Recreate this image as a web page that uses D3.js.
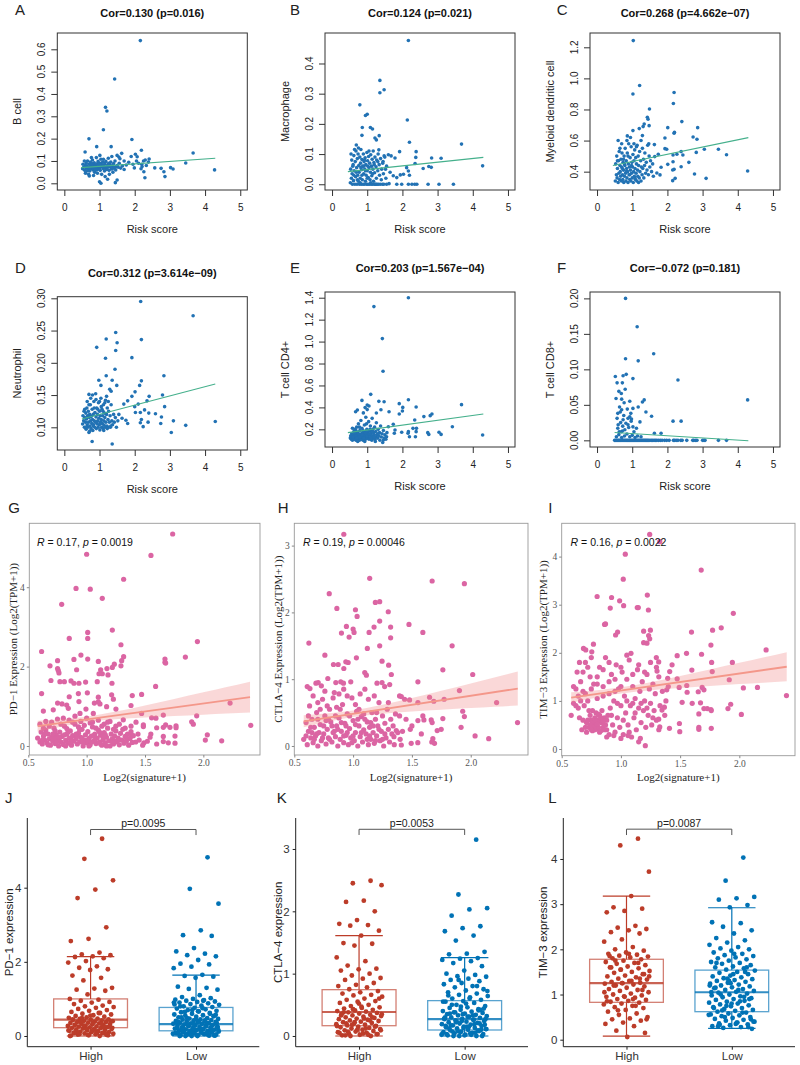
<!DOCTYPE html>
<html><head><meta charset="utf-8">
<script src="https://cdn.jsdelivr.net/npm/d3@7"></script>
<style>body{margin:0;background:#fff}svg{display:block}</style>
</head><body><svg id="c" width="800" height="1065"></svg>
<script>
// ---------------- DATA ----------------
// Panels A-F: [risk score, cell infiltration]
const ptsA=[[2.16,.639],[1.43,.467],[1.17,.34],[1.21,.324],[1.11,.24],[0.7,.199],[1.92,.196],[0.92,.164],[1.33,.164],[0.59,.14],[1.63,.134],[2.02,.13],[2.19,.148],[3.66,.136],[3.45,.091],[4.27,.06],[2.3,.104],[2.41,.109],[2.57,.069],[2.75,.067],[2.83,.052],[2.86,.03],[3.02,.07],[3.09,.064],[2.29,.025],[1.99,.069],[1.83,.094],[1.76,.082],[2.11,.09],[2.26,.052],[2.21,.075],[2.07,.119],[1.0,.007],[1.04,0],[1.45,.003],[1.23,.018],[1.5,.015],[0.71,.033],[1.9,.12],[2.2,.085],[2.39,.095],[2.18,.065],[1.7,.1],[1.55,.118],[2.25,.1],[1.95,.085],[2.33,.08],[2.05,.1],
[0.52,.065],[0.55,.072],[0.58,.058],[0.6,.08],[0.62,.09],[0.63,.068],[0.65,.075],[0.66,.1],[0.68,.062],[0.7,.085],[0.71,.07],[0.72,.055],[0.74,.095],[0.75,.078],[0.76,.066],[0.78,.088],[0.79,.072],[0.8,.104],[0.81,.06],[0.82,.08],[0.84,.07],[0.85,.092],[0.86,.05],[0.87,.083],[0.88,.068],[0.9,.076],[0.91,.115],[0.92,.06],[0.93,.087],[0.95,.071],[0.96,.098],[0.97,.064],[0.98,.08],[1.0,.07],[1.01,.125],[1.02,.058],[1.03,.09],[1.05,.075],[1.06,.04],[1.08,.082],[1.1,.066],[1.11,.108],[1.12,.078],[1.14,.055],[1.15,.088],[1.17,.07],[1.18,.098],[1.2,.062],[1.22,.08],[1.24,.072],[1.25,.112],[1.27,.058],[1.29,.085],[1.3,.074],[1.32,.095],[1.34,.064],[1.36,.078],[1.38,.05],[1.4,.088],[1.42,.07],[1.44,.1],[1.46,.06],[1.5,.08],[1.53,.072],[1.56,.09],[1.6,.068],[1.65,.078],[1.7,.062],[0.57,.1],[0.6,.045],[0.69,.04],[0.77,.115],[0.83,.035],[0.94,.045],[1.04,.108],[1.09,.095],[1.16,.03],[1.28,.04],[1.35,.12],[0.53,.085],[0.64,.055],[0.73,.07],[0.89,.06],[0.99,.088],[1.13,.068],[1.26,.09],[1.37,.066],[1.48,.075],[1.5,.125],[1.58,.11]];
const ptsB=[[2.17,.476],[1.36,.344],[1.48,.313],[1.36,.303],[0.79,.263],[1.0,.232],[0.95,.228],[2.14,.213],[0.86,.188],[1.09,.188],[1.15,.183],[0.85,.162],[1.22,.153],[1.26,.147],[1.34,.161],[2.2,.139],[3.68,.133],[0.69,.13],[1.33,.114],[2.39,.108],[1.92,.108],[1.48,.094],[1.6,.098],[1.68,.094],[1.79,.087],[2.38,.089],[2.83,.087],[3.1,.086],[2.75,.059],[2.82,.056],[2.36,.069],[2.59,.052],[4.28,.061],[2.17,.044],[1.94,.031],[2.03,.033],[1.74,.028],[1.84,.022],[1.62,.002],[2.17,0],[2.27,0],[2.35,0],[2.41,0],[2.73,0],[3.04,0],[3.45,0],[1.98,0],[1.84,0],[1.55,0],[2.2,.03],[2.12,.055],[1.55,.06],[1.65,.04],[1.45,.075],[1.52,.05],
[0.52,.005],[0.53,.05],[0.55,.02],[0.56,.08],[0.57,.035],[0.58,0],[0.6,.065],[0.61,.012],[0.62,.095],[0.63,.045],[0.65,0],[0.66,.075],[0.67,.025],[0.68,.11],[0.7,.055],[0.71,0],[0.72,.085],[0.73,.03],[0.74,.1],[0.75,.01],[0.76,.062],[0.77,.04],[0.78,0],[0.79,.09],[0.8,.02],[0.81,.07],[0.82,.115],[0.83,0],[0.84,.048],[0.85,.082],[0.86,.015],[0.87,.06],[0.88,0],[0.89,.1],[0.9,.035],[0.91,.075],[0.92,0],[0.93,.05],[0.94,.088],[0.95,.01],[0.96,.065],[0.97,.03],[0.98,0],[0.99,.105],[1.0,.045],[1.01,.078],[1.02,0],[1.03,.022],[1.04,.092],[1.05,.055],[1.06,0],[1.07,.07],[1.08,.015],[1.09,.04],[1.1,.098],[1.11,0],[1.12,.06],[1.13,.028],[1.14,.083],[1.15,0],[1.16,.05],[1.17,.11],[1.18,.01],[1.19,.072],[1.2,0],[1.21,.038],[1.22,.09],[1.23,0],[1.25,.058],[1.26,.02],[1.27,.08],[1.28,0],[1.3,.045],[1.31,.1],[1.32,0],[1.34,.065],[1.35,.03],[1.37,0],[1.38,.085],[1.4,.015],[1.41,.05],[1.43,0],[1.44,.07],[1.46,.035],[1.47,0],[1.5,.09],[1.53,.02],[0.54,.1],[0.59,.06],[0.64,.115],[0.69,.04],[0.75,.12],[0.8,.005],[0.85,.03],[0.9,.06],[0.95,.045],[1.0,.02],[1.05,.11],[1.1,.005],[1.15,.035],[1.2,.065],[1.25,0],[1.3,.075],[0.62,.03],[0.72,.015],[0.82,.055],[0.92,.08],[1.02,.06]];
const ptsC=[[1.03,1.243],[1.21,.954],[1.02,.9],[2.19,.909],[2.17,.838],[1.49,.803],[1.43,.75],[1.45,.737],[2.41,.722],[1.34,.707],[1.31,.69],[1.48,.696],[1.2,.677],[2.01,.683],[2.86,.683],[1.02,.664],[2.2,.653],[2.19,.647],[2.73,.623],[2.84,.608],[1.93,.617],[0.86,.63],[1.29,.632],[1.63,.574],[1.47,.58],[1.93,.548],[1.98,.544],[3.05,.544],[3.45,.544],[2.82,.524],[3.68,.509],[2.16,.507],[2.27,.512],[2.39,.529],[2.44,.507],[1.74,.512],[1.64,.497],[2.01,.447],[2.16,.464],[2.61,.46],[2.39,.432],[1.82,.428],[2.19,.415],[2.15,.411],[2.77,.385],[3.1,.357],[4.28,.404],[2.22,.357],[2.15,.342],[1.79,.379],[1.7,.391],
[0.52,.34],[0.53,.45],[0.55,.38],[0.56,.5],[0.57,.36],[0.58,.42],[0.6,.33],[0.61,.47],[0.62,.39],[0.63,.53],[0.64,.35],[0.65,.44],[0.66,.4],[0.67,.37],[0.68,.48],[0.69,.34],[0.7,.43],[0.71,.52],[0.72,.38],[0.73,.35],[0.74,.46],[0.75,.41],[0.76,.33],[0.77,.5],[0.78,.37],[0.79,.44],[0.8,.55],[0.81,.39],[0.82,.34],[0.83,.47],[0.84,.42],[0.85,.36],[0.86,.52],[0.87,.4],[0.88,.33],[0.89,.45],[0.9,.58],[0.91,.38],[0.92,.43],[0.93,.35],[0.94,.49],[0.95,.41],[0.96,.34],[0.97,.56],[0.98,.39],[0.99,.46],[1.0,.36],[1.01,.43],[1.02,.51],[1.03,.33],[1.04,.4],[1.05,.47],[1.06,.37],[1.07,.54],[1.08,.42],[1.09,.35],[1.1,.49],[1.11,.39],[1.12,.45],[1.13,.34],[1.14,.57],[1.15,.41],[1.16,.37],[1.17,.5],[1.18,.44],[1.2,.36],[1.21,.53],[1.22,.4],[1.24,.47],[1.25,.34],[1.26,.43],[1.28,.38],[1.29,.55],[1.3,.42],[1.32,.48],[1.33,.36],[1.35,.44],[1.36,.52],[1.38,.39],[1.4,.46],[1.42,.41],[1.44,.57],[1.46,.38],[1.48,.5],[1.5,.43],[1.52,.47],[1.55,.4],[1.58,.45],[1.6,.37],[0.6,.6],[0.7,.58],[0.85,.6],[0.95,.62],[1.05,.58],[0.65,.55],[0.75,.48],[0.88,.5],[1.12,.56],[1.25,.6],[0.58,.47],[0.72,.42],[0.83,.4],[0.93,.38],[1.08,.36],[1.18,.33],[0.98,.44],[0.78,.45]];
const ptsD=[[2.17,.295],[3.66,.273],[1.46,.247],[1.19,.237],[2.19,.236],[1.5,.231],[0.92,.224],[1.46,.219],[1.17,.207],[1.92,.208],[1.44,.19],[1.19,.18],[2.83,.18],[1.36,.173],[0.98,.173],[2.19,.172],[1.49,.165],[2.14,.165],[1.29,.159],[1.33,.156],[1.04,.165],[0.7,.151],[2.79,.15],[2.01,.155],[1.92,.148],[2.41,.148],[2.35,.141],[2.1,.136],[1.69,.136],[1.8,.141],[2.0,.132],[2.85,.132],[2.28,.127],[2.16,.123],[2.02,.123],[2.59,.121],[2.4,.122],[2.76,.116],[3.1,.11],[4.29,.109],[2.38,.108],[2.19,.112],[2.16,.107],[2.24,.101],[2.74,.106],[3.45,.103],[3.04,.092],[0.79,.078],[1.36,.074],[1.8,.106],[1.75,.111],[1.64,.114],
[0.52,.105],[0.53,.118],[0.55,.11],[0.56,.125],[0.57,.1],[0.58,.115],[0.6,.108],[0.61,.122],[0.62,.097],[0.63,.113],[0.64,.13],[0.65,.104],[0.66,.118],[0.67,.1],[0.68,.125],[0.69,.108],[0.7,.092],[0.71,.115],[0.72,.12],[0.73,.102],[0.74,.135],[0.75,.11],[0.76,.098],[0.77,.117],[0.78,.106],[0.79,.128],[0.8,.112],[0.81,.095],[0.82,.12],[0.83,.104],[0.84,.14],[0.85,.11],[0.86,.1],[0.87,.123],[0.88,.108],[0.89,.152],[0.9,.116],[0.91,.098],[0.92,.13],[0.93,.105],[0.94,.12],[0.95,.11],[0.96,.1],[0.97,.138],[0.98,.114],[0.99,.104],[1.0,.125],[1.01,.096],[1.02,.118],[1.03,.108],[1.04,.145],[1.05,.112],[1.06,.1],[1.07,.128],[1.08,.106],[1.09,.118],[1.1,.098],[1.11,.135],[1.12,.11],[1.13,.103],[1.14,.122],[1.15,.115],[1.16,.1],[1.17,.142],[1.18,.108],[1.2,.12],[1.21,.102],[1.22,.13],[1.24,.112],[1.25,.1],[1.26,.125],[1.28,.108],[1.3,.118],[1.31,.1],[1.33,.135],[1.35,.11],[1.37,.104],[1.4,.12],[1.42,.108],[1.45,.115],[1.48,.1],[1.52,.11],[1.55,.12],[0.58,.128],[0.65,.14],[0.7,.135],[0.75,.145],[0.8,.15],[0.85,.13],[0.9,.143],[0.95,.128],[1.0,.14],[1.05,.132],[1.1,.125],[1.15,.138],[1.2,.148],[1.25,.14],[0.6,.1],[0.72,.094],[0.82,.102],[0.92,.108],[1.02,.105],[1.12,.095],[1.22,.098],[1.32,.102]];
const ptsE=[[2.17,1.4],[1.19,1.319],[1.43,1.027],[1.45,.729],[1.1,.519],[0.85,.464],[2.17,.47],[1.33,.455],[1.48,.452],[3.68,.425],[1.91,.434],[2.01,.4],[2.39,.404],[1.0,.422],[1.05,.413],[0.94,.398],[0.72,.376],[0.67,.361],[1.26,.349],[1.39,.379],[1.62,.361],[1.91,.34],[2.0,.367],[2.84,.34],[2.79,.325],[2.61,.316],[2.35,.285],[3.42,.224],[4.28,.148],[3.04,.173],[3.1,.154],[2.72,.17],[2.75,.154],[2.3,.209],[2.4,.209],[2.39,.179],[2.16,.164],[2.2,.133],[2.17,.179],[2.37,.133],[1.98,.173],[1.79,.194],[1.77,.164],[1.55,.133],[1.46,.103],[1.74,.246],[1.6,.224],
[0.52,.12],[0.53,.14],[0.55,.11],[0.56,.16],[0.57,.13],[0.58,.1],[0.6,.15],[0.61,.12],[0.62,.18],[0.63,.11],[0.64,.14],[0.65,.2],[0.66,.12],[0.67,.16],[0.68,.1],[0.69,.13],[0.7,.22],[0.71,.15],[0.72,.11],[0.73,.17],[0.74,.13],[0.75,.25],[0.76,.12],[0.77,.15],[0.78,.1],[0.79,.19],[0.8,.14],[0.81,.12],[0.82,.28],[0.83,.16],[0.84,.11],[0.85,.21],[0.86,.13],[0.87,.17],[0.88,.1],[0.89,.35],[0.9,.15],[0.91,.12],[0.92,.24],[0.93,.14],[0.94,.18],[0.95,.11],[0.96,.31],[0.97,.16],[0.98,.13],[0.99,.2],[1.0,.38],[1.01,.12],[1.02,.17],[1.03,.14],[1.04,.27],[1.05,.11],[1.06,.19],[1.07,.15],[1.08,.12],[1.09,.23],[1.1,.16],[1.11,.13],[1.12,.18],[1.13,.1],[1.14,.3],[1.15,.14],[1.16,.2],[1.17,.12],[1.18,.17],[1.2,.15],[1.21,.22],[1.22,.11],[1.24,.18],[1.25,.13],[1.26,.26],[1.28,.15],[1.3,.12],[1.31,.2],[1.33,.14],[1.35,.17],[1.36,.1],[1.38,.23],[1.4,.13],[1.42,.16],[1.44,.08],[1.46,.19],[1.48,.12],[1.5,.15],[1.53,.11],[1.56,.17],[0.6,.13],[0.7,.12],[0.8,.13],[0.9,.12],[1.0,.14],[1.1,.12],[1.2,.13],[1.3,.16],[0.65,.17],[0.75,.16],[0.85,.15],[0.95,.17],[1.05,.16],[1.15,.18],[0.58,.21],[0.68,.19],[0.78,.22],[0.88,.19],[0.98,.25],[1.08,.2],[0.73,.09],[0.93,.09],[1.23,.09]];
const ptsF=[[0.81,.2],[1.14,.16],[1.61,.122],[0.81,.115],[1.17,.112],[0.83,.093],[0.52,.09],[0.74,.091],[1.02,.087],[2.3,.085],[0.57,.081],[0.72,.081],[0.8,.072],[0.62,.069],[0.69,.066],[1.34,.057],[1.29,.054],[4.28,.057],[0.54,.059],[0.7,.058],[0.77,.053],[1.17,.047],[1.02,.045],[1.39,.04],[0.96,.038],[1.55,.034],[1.22,.026],[2.16,.027],[2.39,.027],[0.59,.038],[0.66,.04],[0.88,.031],[0.57,.031],[0.74,.029],[0.93,.033],[1.02,.019],[1.12,.017],[1.63,.01],[1.82,.01],[0.59,.017],[0.79,.015],[0.88,.022],[0.69,.012],
[0.5,0],[0.53,0],[0.56,0],[0.59,0],[0.62,0],[0.65,0],[0.68,0],[0.71,0],[0.74,0],[0.77,0],[0.8,0],[0.83,0],[0.86,0],[0.89,0],[0.92,0],[0.95,0],[0.98,0],[1.01,0],[1.04,0],[1.07,0],[1.1,0],[1.13,0],[1.16,0],[1.19,0],[1.22,0],[1.25,0],[1.28,0],[1.31,0],[1.34,0],[1.37,0],[1.4,0],[1.43,0],[1.46,0],[1.5,0],[1.54,0],[1.58,0],[1.62,0],[1.66,0],[1.7,0],[1.75,0],[1.8,0],[1.85,0],[1.92,0],[1.98,0],[2.05,0],[2.17,0],[2.2,0],[2.25,0],[2.3,0],[2.38,0],[2.42,0],[2.55,0],[2.72,0],[2.75,0],[2.8,0],[2.84,0],[3.0,0],[3.04,0],[3.07,0],[3.45,0],[3.68,0],
[0.55,.005],[0.62,.008],[0.7,.004],[0.78,.006],[0.85,.009],[0.93,.005],[1.0,.007],[1.08,.004],[1.15,.006],[1.25,.005],[0.6,.022],[0.67,.025],[0.73,.02],[0.82,.024],[0.9,.018],[0.97,.027],[1.05,.012],[0.64,.047],[0.7,.043],[0.76,.035],[0.86,.044],[0.93,.055],[0.98,.03],[0.72,.013],[0.63,.012]];

// Linear fits read from A-F: [x0, y0, x1, y1]
const fitA=[0.48,.07,4.29,.112], fitB=[0.45,.042,4.3,.089], fitC=[0.45,.44,4.3,.619],
      fitD=[0.5,.113,4.29,.167], fitE=[0.45,.17,4.3,.34], fitF=[0.5,.011,4.3,-.0005];
const riskTicks=[0,1,2,3,4,5];
const ticksA=[0,.1,.2,.3,.4,.5,.6], ticksB=[0,.1,.2,.3,.4], ticksC=[.4,.6,.8,1.0,1.2],
      ticksD=[.10,.15,.20,.25,.30], ticksE=[.2,.4,.6,.8,1.0,1.2,1.4], ticksF=[0,.05,.10,.15,.20];

// Panels G-I: [Log2(signature+1), expression]
const ptsG=[[1.737,5.34],[1.551,4.8],[1.0,4.83],[1.317,4.2],[0.909,3.97],[1.031,3.95],[1.134,3.72],[0.786,3.57],[1.22,2.92],[1.009,2.86],[0.851,2.71],[1.009,2.71],[1.949,2.63],[1.294,2.55],[0.614,2.38],[0.951,2.29],[1.317,2.25],[1.846,2.24],[1.671,2.19],[0.891,2.18],[1.009,2.19],[0.751,2.15],[1.3,2.15],[1.1,2.13],[1.671,2.11],[1.677,2.09],[1.237,2.06],[0.686,2.02],[1.294,2.02],[1.22,1.98],[0.751,1.95],[1.174,1.95],[0.914,1.92],[1.12,1.92],[0.757,1.9],[0.763,1.84],[1.106,1.82],[1.134,1.82],[1.183,1.79],[1.091,1.62],[0.694,1.65],[0.771,1.62],[0.809,1.62],[0.866,1.64],[0.891,1.58],[0.934,1.58],[0.991,1.61],[1.217,1.58],[1.591,1.5],[0.614,1.32],[0.929,1.32],[1.006,1.34],[1.391,1.27],[1.471,1.3],[0.851,1.24],[1.1,1.23],[1.214,1.29],[1.229,1.18],[1.38,1.02],[1.1,1.11],[0.751,1.08],[0.789,1.06],[0.829,1.03],[0.934,1.12],[1.066,1.08],[1.114,1.06],[1.171,.99],[1.251,.93],[0.629,.88],[0.714,.91],[0.843,.95],[0.994,.93],[2.229,1.08],[1.657,.78],[1.943,.76],[1.557,.71],[1.594,.7],[1.471,.82],[0.943,.82],[1.057,.82],[1.9,.61],[1.914,.55],[2.406,.52],[1.423,.6],[1.314,.66],[1.486,.53],[1.486,.49],[1.6,.46],[1.657,.47],[1.677,.53],[1.714,.47],[1.766,.51],[1.766,.46],[2.034,.28],[1.757,.25],[1.657,.24],[1.386,.25],[1.543,.22],[2.017,.15],[2.157,.13],[1.757,.07],[1.491,.08],[1.657,.11],[1.7,.08],
[0.58,.2],[0.6,.1],[0.61,.35],[0.62,.05],[0.63,.25],[0.64,.15],[0.65,.4],[0.66,.08],[0.67,.3],[0.68,.18],[0.69,.02],[0.7,.22],[0.71,.12],[0.72,.45],[0.73,.06],[0.74,.28],[0.75,.16],[0.76,0],[0.77,.35],[0.78,.1],[0.79,.24],[0.8,.04],[0.81,.5],[0.82,.14],[0.83,.3],[0.84,.07],[0.85,.2],[0.86,.38],[0.87,.02],[0.88,.26],[0.89,.12],[0.9,.55],[0.91,.18],[0.92,.05],[0.93,.32],[0.94,.1],[0.95,.22],[0.96,.42],[0.97,0],[0.98,.15],[0.99,.28],[1.0,.08],[1.01,.36],[1.02,.19],[1.03,.03],[1.04,.25],[1.05,.48],[1.06,.12],[1.07,.3],[1.08,.06],[1.09,.2],[1.1,.4],[1.11,.1],[1.12,.27],[1.13,.02],[1.14,.16],[1.15,.34],[1.16,.08],[1.17,.22],[1.18,.45],[1.19,.13],[1.2,0],[1.21,.3],[1.22,.18],[1.23,.05],[1.24,.25],[1.25,.38],[1.26,.1],[1.27,.2],[1.28,.03],[1.29,.32],[1.3,.15],[1.31,.42],[1.32,.07],[1.33,.24],[1.34,.12],[1.35,.3],[1.36,.02],[1.37,.19],[1.38,.36],[1.39,.09],[1.4,.26],[0.6,.55],[0.65,.62],[0.7,.6],[0.75,.68],[0.8,.7],[0.85,.65],[0.9,.75],[0.95,.62],[1.0,.7],[1.05,.6],[1.1,.65],[1.15,.55],[1.2,.62],[1.25,.5],[0.63,.45],[0.68,.5],[0.73,.38],[0.78,.55],[0.83,.44],[0.88,.6],[0.93,.48],[0.98,.52],[1.03,.58],[1.08,.45],[1.13,.5],[1.18,.6],[1.23,.42],[1.28,.55],[1.33,.45],[1.38,.5],[0.62,.15],[0.67,.03],[0.72,.2],[0.77,.12],[0.82,0],[0.87,.15],[0.92,.25],[0.97,.1],[1.02,0],[1.07,.15],[1.12,.05],[1.17,0],[1.22,.1],[1.27,.15],[0.71,.3],[0.76,.22],[0.81,.28],[0.86,.1],[0.91,.3],[0.96,.2],[1.01,.15],[1.06,.26],[1.11,.35],[1.16,.28],[0.64,.3],[0.74,.08],[0.84,.35],[0.94,.4],[1.04,.1],[1.14,.24],[1.24,.12],[1.34,.2],[1.44,.3],[1.42,.1],[1.45,.15],[1.48,.02],[1.52,.12],[1.55,.3],[1.6,.05]];
const ptsH=[[0.921,3.17],[1.141,2.51],[1.672,2.47],[1.946,2.43],[0.797,2.28],[1.226,2.16],[1.189,2.15],[0.862,2.06],[1.02,2.04],[1.034,1.94],[1.299,2.01],[1.226,1.87],[1.475,1.82],[0.943,1.79],[1.178,1.78],[1.319,1.78],[1.0,1.75],[1.008,1.7],[0.901,1.69],[1.136,1.7],[1.593,1.7],[0.966,1.63],[1.319,1.62],[0.624,1.54],[1.226,1.5],[1.842,1.5],[1.121,1.46],[0.76,1.36],[1.246,1.27],[0.938,1.26],[0.958,1.25],[1.028,1.32],[0.833,1.22],[0.873,1.22],[1.302,1.21],[0.921,1.16],[1.763,1.14],[1.099,1.1],[1.113,1.06],[1.325,1.07],[2.017,1.07],[1.551,.96],[0.785,1.01],[0.61,.89],[0.633,.86],[0.684,.94],[0.703,.95],[0.853,.95],[0.895,.96],[0.918,.94],[0.98,.96],[1.203,.94],[1.246,.95],[1.311,.92],[1.268,.89],[1.395,.75],[1.41,.74],[1.438,.7],[1.48,.69],[1.904,.83],[1.65,.73],[1.686,.67],[1.774,.7],[2.22,.65],[1.551,.65],[1.932,.52],[1.946,.44],[2.398,.35],[1.593,.45],[1.602,.39],[1.551,.38],[1.395,.45],[1.664,.39],[1.672,.35],[1.763,.41],[1.486,.25],[1.715,.23],[1.749,.25],[1.918,.28],[2.037,.15],[2.153,.11],[1.494,.04],[1.41,.015],[1.678,.11],[1.669,.06],[1.692,.04],[1.347,.14],[1.367,.23],
[0.58,.1],[0.6,.35],[0.61,.02],[0.62,.22],[0.63,.6],[0.64,.12],[0.65,.4],[0.66,.05],[0.67,.28],[0.68,.15],[0.69,.5],[0.7,0],[0.71,.2],[0.72,.32],[0.73,.08],[0.74,.7],[0.75,.18],[0.76,.45],[0.77,.03],[0.78,.25],[0.79,.12],[0.8,.55],[0.81,.36],[0.82,.06],[0.83,.2],[0.84,.8],[0.85,.14],[0.86,.3],[0.87,0],[0.88,.42],[0.89,.1],[0.9,.22],[0.91,.62],[0.92,.05],[0.93,.34],[0.94,.16],[0.95,.48],[0.96,.02],[0.97,.26],[0.98,.12],[0.99,.72],[1.0,.38],[1.01,.08],[1.02,.2],[1.03,.52],[1.04,0],[1.05,.3],[1.06,.14],[1.07,.44],[1.08,.06],[1.09,.24],[1.1,.85],[1.11,.18],[1.12,.36],[1.13,.02],[1.14,.28],[1.15,.1],[1.16,.5],[1.17,.2],[1.18,.04],[1.19,.4],[1.2,.15],[1.21,.3],[1.22,.65],[1.23,.08],[1.24,.22],[1.25,.45],[1.26,0],[1.27,.34],[1.28,.12],[1.29,.55],[1.3,.25],[1.31,.06],[1.32,.4],[1.33,.18],[1.34,.3],[1.35,.02],[1.36,.48],[1.38,.2],[1.4,.1],[0.6,.15],[0.65,.2],[0.7,.4],[0.75,.3],[0.8,.1],[0.85,.45],[0.9,.35],[0.95,.2],[1.0,.15],[1.05,.55],[1.1,.4],[1.15,.35],[1.2,.5],[1.25,.1],[0.62,.45],[0.67,.1],[0.72,.55],[0.77,.38],[0.82,.3],[0.87,.25],[0.92,.15],[0.97,.45],[1.02,.32],[1.07,.2],[1.12,.1],[1.17,.3],[1.22,.25],[1.27,.18],[0.64,.28],[0.69,.18],[0.74,.12],[0.79,.4],[0.84,.22],[0.89,.55],[0.94,.3],[0.99,.05],[1.04,.4],[1.09,.48],[1.14,.15],[1.19,.08],[0.7,.65],[0.78,.6],[0.86,.58],[0.95,.75],[1.02,.62],[1.13,.7],[0.76,.82],[0.83,.72],[0.92,.85],[1.06,.78],[1.18,.75],[1.3,.65],[0.73,.9],[0.88,.78],[0.66,.75],[1.42,.22],[1.45,.4],[1.5,.3],[1.55,.05],[1.58,.18]];
const ptsI=[[1.243,4.46],[1.328,4.31],[1.037,4.05],[1.678,3.72],[1.02,3.53],[0.799,3.17],[1.223,3.2],[0.921,3.15],[0.989,3.08],[1.023,2.98],[1.138,2.94],[1.147,2.94],[0.91,2.93],[1.232,2.89],[1.949,2.82],[0.862,2.59],[0.87,2.6],[1.847,2.52],[1.774,2.47],[1.249,2.47],[0.955,2.37],[0.972,2.43],[1.596,2.43],[1.192,2.45],[1.234,2.36],[1.192,2.21],[1.22,2.2],[1.243,2.29],[1.76,2.16],[2.226,2.06],[0.768,2.18],[0.684,2.09],[0.703,2.06],[0.754,2.02],[1.085,1.99],[1.554,1.99],[1.681,1.97],[1.299,1.9],[1.475,1.94],[1.941,1.8],[1.766,1.8],[1.319,1.81],[1.599,1.64],[1.771,1.61],[1.305,1.62],[1.432,1.75],[1.412,1.61],[1.395,1.47],[1.475,1.46],[1.556,1.32],[1.915,1.44],[2.034,1.27],[2.153,1.28],[1.686,1.28],[1.701,1.23],[1.387,1.23],[1.492,1.28],[2.398,1.11],[1.559,1.18],[1.653,1.19],[1.602,.95],[1.672,.96],[1.927,.93],[1.701,.84],[1.729,.84],[1.76,.82],[1.904,.84],[1.658,.73],[1.763,.8],[2.017,.72],[1.517,.97],[1.347,.81],[1.367,.87],[1.319,.62],[1.41,.43],[1.494,.53],[1.497,.36],[1.658,.45],[1.658,.41],[1.763,.43],[1.328,.46],[1.206,.07],[1.15,.15],[1.164,.22],
[0.58,.7],[0.6,1.3],[0.62,.9],[0.63,1.6],[0.64,1.1],[0.65,.65],[0.66,1.4],[0.67,.4],[0.68,1.2],[0.69,.9],[0.7,1.8],[0.71,.55],[0.72,1.0],[0.73,.45],[0.74,1.5],[0.75,.6],[0.76,.38],[0.77,1.35],[0.78,.5],[0.79,.75],[0.8,.42],[0.8,1.05],[0.81,.6],[0.82,.35],[0.82,1.7],[0.83,.55],[0.84,.8],[0.85,.45],[0.85,1.3],[0.86,.65],[0.87,.5],[0.87,1.9],[0.88,.4],[0.89,.7],[0.9,1.15],[0.9,.3],[0.91,.85],[0.92,1.55],[0.93,.5],[0.94,1.0],[0.95,.35],[0.96,1.75],[0.97,.65],[0.98,1.25],[0.99,.45],[1.0,.9],[1.01,1.6],[1.02,.3],[1.03,1.1],[1.04,.75],[1.05,1.45],[1.06,.5],[1.07,1.85],[1.08,.9],[1.09,.25],[1.1,1.3],[1.11,.65],[1.12,1.05],[1.13,.4],[1.14,1.65],[1.15,.85],[1.16,1.2],[1.17,.55],[1.18,1.4],[1.19,.8],[1.2,1.0],[1.21,.45],[1.22,1.55],[1.23,.7],[1.24,1.25],[1.25,.95],[1.26,.5],[1.27,1.35],[1.28,.8],[1.29,1.15],[1.3,.6],[1.32,1.5],[1.33,.9],[1.35,1.2],[1.37,.7],[1.38,1.0],[1.4,1.3],[0.72,.6],[0.74,.7],[0.76,.55],[0.76,.8],[0.78,.65],[0.78,.4],[0.79,.5],[0.8,.6],[0.81,.45],[0.82,.7],[0.83,.38],[0.84,.55],[0.74,.5],[0.77,.45],[0.79,.58],[0.81,.72],[0.86,.4],[0.88,.6],[0.7,.45],[0.73,.8],[0.75,.4],[0.8,.52],[0.83,.65],[0.85,.58],[0.65,1.8],[0.68,1.6],[0.72,1.7],[0.75,1.9],[0.8,1.5],[0.85,1.65],[0.9,1.8],[0.95,1.45],[1.0,1.7],[1.05,1.95],[1.1,1.55],[1.15,1.75],[1.2,1.6],[1.25,1.8],[1.3,1.7],[0.62,1.25],[0.66,1.0],[0.7,1.15],[0.75,1.25],[0.8,1.35],[0.85,1.1],[0.9,1.4],[0.95,1.2],[1.0,1.3],[1.05,1.0],[1.1,.95],[0.92,.7],[0.97,.95],[1.02,.6],[1.07,.35],[1.12,.75],[1.17,.95],[1.22,.85],[1.27,.65],[1.32,.4],[0.88,.25],[0.94,.28],[1.0,.22],[1.06,.28],[0.6,.95],[0.64,.85],[0.68,.6],[0.71,.35]];
// regression line [x0,y0,x1,y1] and confidence ribbon [x, lower, upper]
const fitG=[0.58,.5,2.4,1.23], fitH=[0.58,.37,2.4,.86], fitI=[0.58,1.07,2.4,1.71];
const ribbonG=[[0.58,.366,.634],[0.8,.499,.677],[1.0,.598,.738],[1.25,.671,.867],[1.5,.716,1.022],[1.75,.753,1.185],[2.0,.789,1.351],[2.2,.816,1.484],[2.4,.842,1.618]];
const ribbonH=[[0.58,.28,.46],[0.8,.368,.49],[1.0,.433,.533],[1.25,.483,.617],[1.5,.515,.719],[1.75,.542,.827],[2.0,.567,.937],[2.2,.586,1.025],[2.4,.606,1.114]];
const ribbonI=[[0.58,.96,1.18],[0.8,1.07,1.224],[1.0,1.153,1.283],[1.25,1.222,1.39],[1.5,1.27,1.518],[1.75,1.31,1.653],[2.0,1.349,1.791],[2.2,1.378,1.902],[2.4,1.407,2.013]];
const sigTicks=[0.5,1.0,1.5,2.0];
const ticksG=[0,2,4], ticksH=[0,1,2,3], ticksI=[0,1,2,3,4];
const corG=["0.17","0.0019"], corH=["0.19","0.00046"], corI=["0.16","0.0022"];

// Panels J-L: expression by risk group
const groups=["High","Low"];
const jHigh=[5.32,4.78,4.2,3.95,3.72,2.93,2.62,2.56,2.25,2.2,2.18,2.15,2.13,2.1,2.02,1.98,1.88,1.84,1.8,1.78,1.63,1.57,1.5,1.3,1.28,1.25,1.22,1.12,1.0,0.98,0.95,0.92,0.9,0.86,0.82,0.8,0.78,0.76,0.73,0.7,0.68,0.65,0.62,0.6,0.58,0.56,0.54,0.52,0.5,0.49,0.47,0.46,0.45,0.44,0.43,0.42,0.41,0.4,0.39,0.38,0.37,0.36,0.35,0.34,0.33,0.32,0.31,0.3,0.29,0.28,0.27,0.26,0.25,0.24,0.23,0.22,0.21,0.2,0.19,0.18,0.17,0.16,0.15,0.14,0.13,0.12,0.11,0.1,0.09,0.08,0.07,0.06,0.05,0.04,0.03,0.02,0.01,0.0,0.48,0.4,0.35,0.3,0.25,0.2,0.15,0.1,0.05,0.02,0.55,0.45,0.33,0.28,0.22,0.17,0.12,0.07,0.03,0.0,0.62,0.38,0.26,0.14,0.08];
const jLow=[4.82,3.97,3.57,2.85,2.72,2.7,2.37,2.28,2.22,2.18,2.15,2.05,1.95,1.93,1.87,1.83,1.65,1.62,1.6,1.57,1.33,1.3,1.27,1.25,1.1,1.05,1.02,1.0,0.98,0.97,0.95,0.93,0.92,0.9,0.88,0.86,0.84,0.82,0.8,0.78,0.76,0.74,0.72,0.7,0.68,0.66,0.64,0.62,0.6,0.58,0.56,0.55,0.54,0.52,0.5,0.48,0.47,0.46,0.45,0.44,0.43,0.42,0.41,0.4,0.39,0.38,0.37,0.36,0.35,0.34,0.33,0.32,0.31,0.3,0.29,0.28,0.27,0.26,0.25,0.24,0.23,0.22,0.21,0.2,0.19,0.18,0.17,0.16,0.15,0.14,0.13,0.12,0.11,0.1,0.09,0.08,0.07,0.06,0.05,0.04,0.03,0.02,0.01,0.0,0.9,0.75,0.65,0.53,0.45,0.38,0.33,0.28,0.24,0.2,0.17,0.14,0.11,0.08,0.05,0.03,0.01,0.0,0.0,0.02,0.04,0.06,0.09,0.12,0.15,0.18,0.22,0.26,0.3,0.35,0.4,0.5,0.6,0.7,0.85,0.95,0.0,0.01,0.03,0.07,0.1,0.13,0.16,0.19,0.23,0.27,0.32,0.37,0.42,0.48,0.57,0.67,0.8];
const kHigh=[2.49,2.45,2.42,2.17,2.15,2.0,1.86,1.8,1.78,1.77,1.69,1.61,1.49,1.48,1.45,1.26,1.2,1.13,1.08,1.07,1.05,1.0,0.97,0.93,0.92,0.9,0.85,0.82,0.8,0.78,0.75,0.72,0.7,0.68,0.66,0.65,0.63,0.6,0.58,0.56,0.55,0.53,0.5,0.48,0.46,0.45,0.44,0.42,0.41,0.4,0.39,0.38,0.37,0.36,0.35,0.34,0.33,0.32,0.31,0.3,0.29,0.28,0.27,0.26,0.25,0.24,0.23,0.22,0.21,0.2,0.19,0.18,0.17,0.16,0.15,0.14,0.13,0.12,0.11,0.1,0.09,0.08,0.07,0.06,0.05,0.04,0.03,0.02,0.01,0.0,0.43,0.35,0.28,0.2,0.15,0.1,0.05,0.02,0.0,0.6,0.47,0.38,0.3,0.22,0.16,0.12,0.07,0.03,0.52,0.33,0.25,0.18,0.09,0.04,0.01];
const kLow=[3.15,2.27,2.05,2.03,1.93,1.76,1.73,1.68,1.61,1.53,1.35,1.32,1.31,1.25,1.24,1.22,1.2,1.17,1.12,1.05,1.0,0.98,0.96,0.95,0.92,0.9,0.88,0.85,0.83,0.8,0.78,0.75,0.73,0.7,0.68,0.66,0.64,0.62,0.6,0.58,0.56,0.55,0.53,0.5,0.48,0.46,0.45,0.43,0.42,0.4,0.39,0.38,0.37,0.36,0.35,0.34,0.33,0.32,0.31,0.3,0.29,0.28,0.27,0.26,0.25,0.24,0.23,0.22,0.21,0.2,0.19,0.18,0.17,0.16,0.15,0.14,0.13,0.12,0.11,0.1,0.09,0.08,0.07,0.06,0.05,0.04,0.03,0.02,0.01,0.0,0.9,0.72,0.6,0.5,0.42,0.35,0.3,0.26,0.22,0.18,0.15,0.12,0.09,0.06,0.04,0.02,0.0,0.0,0.01,0.03,0.05,0.08,0.11,0.14,0.17,0.2,0.24,0.28,0.33,0.38,0.44,0.52,0.65,0.8,0.0,0.02,0.04,0.07,0.1,0.13,0.16,0.19,0.23,0.27,0.31,0.36,0.41,0.47,0.55];
const lHigh=[4.45,4.3,3.72,3.18,2.93,2.9,2.85,2.82,2.52,2.48,2.45,2.42,2.38,2.35,2.22,2.17,2.05,2.0,1.97,1.93,1.9,1.88,1.86,1.84,1.82,1.8,1.78,1.75,1.72,1.7,1.68,1.65,1.62,1.6,1.58,1.55,1.52,1.5,1.48,1.45,1.42,1.4,1.38,1.35,1.33,1.3,1.28,1.26,1.25,1.24,1.22,1.2,1.18,1.15,1.12,1.1,1.08,1.05,1.02,1.0,0.98,0.96,0.95,0.93,0.9,0.88,0.86,0.84,0.82,0.8,0.78,0.75,0.72,0.7,0.66,0.62,0.58,0.55,0.5,0.47,0.45,0.42,0.38,0.35,0.3,0.2,0.15,0.06,1.85,1.7,1.55,1.4,1.3,1.2,1.1,0.95,0.85,0.75,0.65,0.45,1.9,1.6,1.35,1.25,1.05,0.9,1.75,1.45];
const lLow=[4.03,3.52,3.16,3.13,3.1,2.98,2.93,2.6,2.58,2.5,2.42,2.35,2.25,2.2,2.15,2.1,2.05,2.02,2.0,1.97,1.93,1.9,1.87,1.85,1.82,1.8,1.78,1.75,1.72,1.7,1.68,1.65,1.62,1.6,1.58,1.55,1.53,1.5,1.48,1.45,1.42,1.4,1.38,1.36,1.34,1.32,1.3,1.28,1.26,1.24,1.22,1.2,1.18,1.16,1.14,1.12,1.1,1.08,1.06,1.04,1.02,1.0,0.98,0.96,0.94,0.92,0.9,0.88,0.86,0.84,0.82,0.8,0.78,0.76,0.74,0.72,0.7,0.68,0.66,0.64,0.62,0.6,0.58,0.56,0.54,0.52,0.5,0.48,0.46,0.44,0.42,0.4,0.38,0.36,0.34,0.32,0.3,0.28,0.26,0.24,1.9,1.7,1.5,1.35,1.2,1.1,1.0,0.9,0.8,0.7,0.6,0.5,0.4,0.35,0.3,1.6,1.3,1.05,0.85,0.65,0.45,1.45,1.15,0.95,0.75,0.55,0.38,0.33,0.28,1.25];
// box stats [lower whisker, Q1, median, Q3, upper whisker]
const boxJ={High:[0,.224,.44,1.0,2.14],Low:[0,.14,.32,.77,1.64]};
const boxK={High:[0,.165,.385,.743,1.61],Low:[0,.096,.27,.567,1.257]};
const boxL={High:[.08,.827,1.25,1.78,3.18],Low:[.25,.62,1.05,1.54,2.92]};
const pJ="p=0.0095", pK="p=0.0053", pL="p=0.0087";
const ticksJ=[0,2,4], ticksK=[0,1,2,3], ticksL=[0,1,2,3,4];

// ---------------- DRAWING ----------------
const SANS="'Liberation Sans', Arial, Helvetica, sans-serif";
const SERIF="'Liberation Serif', 'Times New Roman', serif";
const BLUE="#2272b4", GREEN="#45b08c", PINK="#db65a3", SALMON="#f4978a";
const RED="#bc3c29", NBLUE="#0072b5";
const svg=d3.select("#c");
svg.append("rect").attr("width",800).attr("height",1065).attr("fill","#fff");

function letter(t,x,y,size){
  svg.append("text").attr("x",x).attr("y",y).attr("font-family",SANS).attr("font-size",size||15).attr("fill","#222").text(t);
}

function rPanel(c){
  const W=190;
  const x=d3.scaleLinear().domain([-0.2,5.2]).range([c.left,c.left+W]);
  const y=d3.scaleLinear().domain(c.ydom).range([c.bottom,c.top]);
  const g=svg.append("g");
  g.append("g").selectAll("circle").data(c.pts).join("circle")
    .attr("cx",d=>x(d[0])).attr("cy",d=>y(d[1])).attr("r",1.8).attr("fill",BLUE);
  g.append("line").attr("x1",x(c.fit[0])).attr("y1",y(c.fit[1])).attr("x2",x(c.fit[2])).attr("y2",y(c.fit[3]))
    .attr("stroke",GREEN).attr("stroke-width",1.1);
  g.append("rect").attr("x",c.left).attr("y",c.top).attr("width",W).attr("height",c.bottom-c.top)
    .attr("fill","none").attr("stroke","#333").attr("stroke-width",1);
  const xa=g.append("g").attr("transform",`translate(0,${c.bottom})`)
    .call(d3.axisBottom(x).tickValues(riskTicks).tickFormat(d3.format("d")).tickSize(6).tickPadding(7.5));
  xa.select(".domain").remove();
  xa.attr("font-family",SANS).attr("font-size",10).attr("color","#333");
  xa.selectAll("text").attr("fill","#222");
  const ya=g.append("g").attr("transform",`translate(${c.left},0)`)
    .call(d3.axisLeft(y).tickValues(c.yticks).tickFormat("").tickSize(6));
  ya.select(".domain").remove();
  ya.attr("color","#333");
  g.append("g").selectAll("text").data(c.yticks).join("text")
    .attr("transform",d=>`translate(${c.left-12},${y(d)}) rotate(-90)`)
    .attr("text-anchor","middle").attr("font-family",SANS).attr("font-size",10).attr("fill","#222")
    .text(d=>d3.format(c.fmt)(d));
  g.append("text").attr("x",c.left+W/2).attr("y",c.bottom+43).attr("text-anchor","middle")
    .attr("font-family",SANS).attr("font-size",11).attr("fill","#222").text("Risk score");
  g.append("text").attr("transform",`translate(${c.left-36.5},${(c.top+c.bottom)/2}) rotate(-90)`)
    .attr("text-anchor","middle").attr("font-family",SANS).attr("font-size",11).attr("fill","#222").text(c.ylab);
  g.append("text").attr("x",c.left+W/2).attr("y",c.titleY).attr("text-anchor","middle")
    .attr("font-family",SANS).attr("font-size",11).attr("font-weight","bold").attr("fill","#111").text(c.title);
}

rPanel({left:57.3,top:33,bottom:190,ydom:[-0.030,0.673],yticks:ticksA,fmt:".1f",pts:ptsA,fit:fitA,ylab:"B cell",title:"Cor=0.130 (p=0.016)",titleY:16.5});
rPanel({left:325,top:33,bottom:190,ydom:[-0.019,0.501],yticks:ticksB,fmt:".1f",pts:ptsB,fit:fitB,ylab:"Macrophage",title:"Cor=0.124 (p=0.021)",titleY:16.5});
rPanel({left:590,top:33,bottom:190,ydom:[0.282,1.292],yticks:ticksC,fmt:".1f",pts:ptsC,fit:fitC,ylab:"Myeloid dendritic cell",title:"Cor=0.268 (p=4.662e\u221207)",titleY:16.5});
rPanel({left:57.3,top:296.7,bottom:450,ydom:[0.0648,0.3025],yticks:ticksD,fmt:".2f",pts:ptsD,fit:fitD,ylab:"Neutrophil",title:"Cor=0.312 (p=3.614e\u221209)",titleY:276.7});
rPanel({left:325,top:292,bottom:447,ydom:[0.039,1.452],yticks:ticksE,fmt:".1f",pts:ptsE,fit:fitE,ylab:"T cell CD4+",title:"Cor=0.203 (p=1.567e\u221204)",titleY:272.3});
rPanel({left:590,top:292,bottom:447,ydom:[-0.0094,0.209],yticks:ticksF,fmt:".2f",pts:ptsF,fit:fitF,ylab:"T cell CD8+",title:"Cor=\u22120.072 (p=0.181)",titleY:272.3});
letter("A",15,15); letter("B",290,15); letter("C",556.7,15);
letter("D",15,272.7); letter("E",290,272.7); letter("F",557,272.7);

function ggScatter(c){
  const x=d3.scaleLinear().domain(c.xdom).range([c.left,c.right]);
  const y=d3.scaleLinear().domain(c.ydom).range([c.bottom,c.top]);
  const g=svg.append("g");
  g.append("g").selectAll("circle").data(c.pts).join("circle")
    .attr("cx",d=>x(d[0])).attr("cy",d=>y(d[1])).attr("r",2.6).attr("fill",PINK);
  g.append("path").datum(c.ribbon).attr("d",d3.area().x(d=>x(d[0])).y0(d=>y(d[1])).y1(d=>y(d[2])).curve(d3.curveMonotoneX))
    .attr("fill","#f08a8a").attr("fill-opacity",0.33);
  g.append("line").attr("x1",x(c.fit[0])).attr("y1",y(c.fit[1])).attr("x2",x(c.fit[2])).attr("y2",y(c.fit[3]))
    .attr("stroke",SALMON).attr("stroke-width",1.8);
  g.append("rect").attr("x",c.left).attr("y",c.top).attr("width",c.right-c.left).attr("height",c.bottom-c.top)
    .attr("fill","none").attr("stroke","#999").attr("stroke-width",0.9);
  const xa=g.append("g").attr("transform",`translate(0,${c.bottom})`)
    .call(d3.axisBottom(x).tickValues(sigTicks).tickFormat(d3.format(".1f")).tickSize(2.5).tickPadding(2));
  xa.select(".domain").remove();
  xa.attr("font-family",SERIF).attr("font-size",9.5).attr("color","#888");
  xa.selectAll("text").attr("fill","#555");
  const ya=g.append("g").attr("transform",`translate(${c.left},0)`)
    .call(d3.axisLeft(y).tickValues(c.yticks).tickFormat(d3.format("d")).tickSize(2.5).tickPadding(2));
  ya.select(".domain").remove();
  ya.attr("font-family",SERIF).attr("font-size",9.5).attr("color","#888");
  ya.selectAll("text").attr("fill","#555");
  g.append("text").attr("x",(c.left+c.right)/2).attr("y",780.5).attr("text-anchor","middle")
    .attr("font-family",SERIF).attr("font-size",11).attr("fill","#222").text("Log2(signature+1)");
  g.append("text").attr("transform",`translate(${c.ylabX},${(c.top+c.bottom)/2}) rotate(-90)`)
    .attr("text-anchor","middle").attr("font-family",SERIF).attr("font-size",11).attr("fill","#222").text(c.ylab);
  const t=g.append("text").attr("x",x(0.575)).attr("y",546).attr("font-family",SANS).attr("font-size",10.5).attr("fill","#111");
  t.append("tspan").attr("font-style","italic").text("R");
  t.append("tspan").text(" = "+c.cor[0]+", ");
  t.append("tspan").attr("font-style","italic").text("p");
  t.append("tspan").text(" = "+c.cor[1]);
}
ggScatter({left:29.3,right:260,top:523.3,bottom:755,xdom:[0.5086,2.4854],ydom:[-0.227,5.61],yticks:ticksG,pts:ptsG,fit:fitG,ribbon:ribbonG,cor:corG,ylab:"PD\u22121 Expression (Log2(TPM+1))",ylabX:16.8});
ggScatter({left:294.3,right:528,top:523.3,bottom:755,xdom:[0.5,2.487],ydom:[-0.135,3.334],yticks:ticksH,pts:ptsH,fit:fitH,ribbon:ribbonH,cor:corH,ylab:"CTLA\u22124 Expression (Log2(TPM+1))",ylabX:281.8});
ggScatter({left:561.7,right:795,top:523.3,bottom:755.7,xdom:[0.5,2.47],ydom:[-0.139,4.692],yticks:ticksI,pts:ptsI,fit:fitI,ribbon:ribbonI,cor:corI,ylab:"TIM\u22123 Expression (Log2(TPM+1))",ylabX:546.8});
letter("G",8.3,513); letter("H",277.7,513); letter("I",548.3,513);

function ggBox(c){
  const top=818, bottom=1046.7;
  const x=d3.scalePoint().domain(groups).range([c.axisX,c.right]).padding(0.6);
  const step=x.step();
  const y=d3.scaleLinear().domain(c.ydom).range([bottom,top]);
  const g=svg.append("g");
  const cols={High:RED,Low:NBLUE};
  groups.forEach(k=>{
    const s=c.box[k], cx=x(k), bw=0.7*step, cw=0.45*step;
    g.append("line").attr("x1",cx).attr("x2",cx).attr("y1",y(s[0])).attr("y2",y(s[4])).attr("stroke",cols[k]).attr("stroke-width",1.2);
    [s[0],s[4]].forEach(v=>g.append("line").attr("x1",cx-cw/2).attr("x2",cx+cw/2).attr("y1",y(v)).attr("y2",y(v)).attr("stroke",cols[k]).attr("stroke-width",1.2));
    g.append("rect").attr("x",cx-bw/2).attr("width",bw).attr("y",y(s[3])).attr("height",y(s[1])-y(s[3]))
      .attr("fill","#fff").attr("stroke",cols[k]).attr("stroke-opacity",0.65).attr("stroke-width",1.3);
    g.append("line").attr("x1",cx-bw/2).attr("x2",cx+bw/2).attr("y1",y(s[2])).attr("y2",y(s[2]))
      .attr("stroke",cols[k]).attr("stroke-opacity",0.8).attr("stroke-width",2.2);
    const vals=c.vals[k];
    g.append("g").selectAll("circle").data(vals).join("circle")
      .attr("cx",(d,i)=>cx+((((i+1)*0.6180339887+0.13)%1)-0.5)*2*0.22*step)
      .attr("cy",d=>y(d)).attr("r",2.4).attr("fill",cols[k]);
  });
  // axes
  const ya=g.append("g").attr("transform",`translate(${c.axisX},0)`)
    .call(d3.axisLeft(y).tickValues(c.yticks).tickFormat(d3.format("d")).tickSize(3).tickPadding(3));
  ya.select(".domain").remove();
  ya.attr("font-family",SANS).attr("font-size",11.5).attr("color","#222");
  ya.selectAll("text").attr("fill","#333");
  g.append("line").attr("x1",c.axisX).attr("x2",c.axisX).attr("y1",top).attr("y2",bottom).attr("stroke","#222").attr("stroke-width",1);
  const xa=g.append("g").attr("transform",`translate(0,${bottom})`)
    .call(d3.axisBottom(x).tickSize(3).tickPadding(2.5));
  xa.select(".domain").remove();
  xa.attr("font-family",SANS).attr("font-size",11.5).attr("color","#222");
  xa.selectAll("text").attr("fill","#333");
  g.append("line").attr("x1",c.axisX).attr("x2",c.right).attr("y1",bottom).attr("y2",bottom).attr("stroke","#222").attr("stroke-width",1);
  // bracket
  const by=y(c.br[0]), bt=y(c.br[1]);
  g.append("path").attr("d",`M${x("High")},${bt}V${by}H${x("Low")}V${bt}`).attr("fill","none").attr("stroke","#555").attr("stroke-width",1);
  g.append("text").attr("x",(x("High")+x("Low"))/2).attr("y",by-2).attr("text-anchor","middle")
    .attr("font-family",SANS).attr("font-size",10.5).attr("fill","#222").text(c.p);
  g.append("text").attr("transform",`translate(${c.ylabX},${(top+bottom)/2}) rotate(-90)`)
    .attr("text-anchor","middle").attr("font-family",SANS).attr("font-size",11.5).attr("fill","#222").text(c.ylab);
}
ggBox({axisX:27.3,right:259.3,ydom:[-0.289,5.88],yticks:ticksJ,box:boxJ,vals:{High:jHigh,Low:jLow},br:[5.57,5.42],p:pJ,ylab:"PD\u22121 expression",ylabX:13.3});
ggBox({axisX:295.7,right:528,ydom:[-0.172,3.497],yticks:ticksK,box:boxK,vals:{High:kHigh,Low:kLow},br:[3.316,3.225],p:pK,ylab:"CTLA\u22124 expression",ylabX:281.5});
ggBox({axisX:563.3,right:795,ydom:[-0.155,4.907],yticks:ticksL,box:boxL,vals:{High:lHigh,Low:lLow},br:[4.66,4.53],p:pL,ylab:"TIM\u22123 expression",ylabX:547.2});
letter("J",5,803.3); letter("K",276.7,803.3); letter("L",548.3,803.3);
</script></body></html>
